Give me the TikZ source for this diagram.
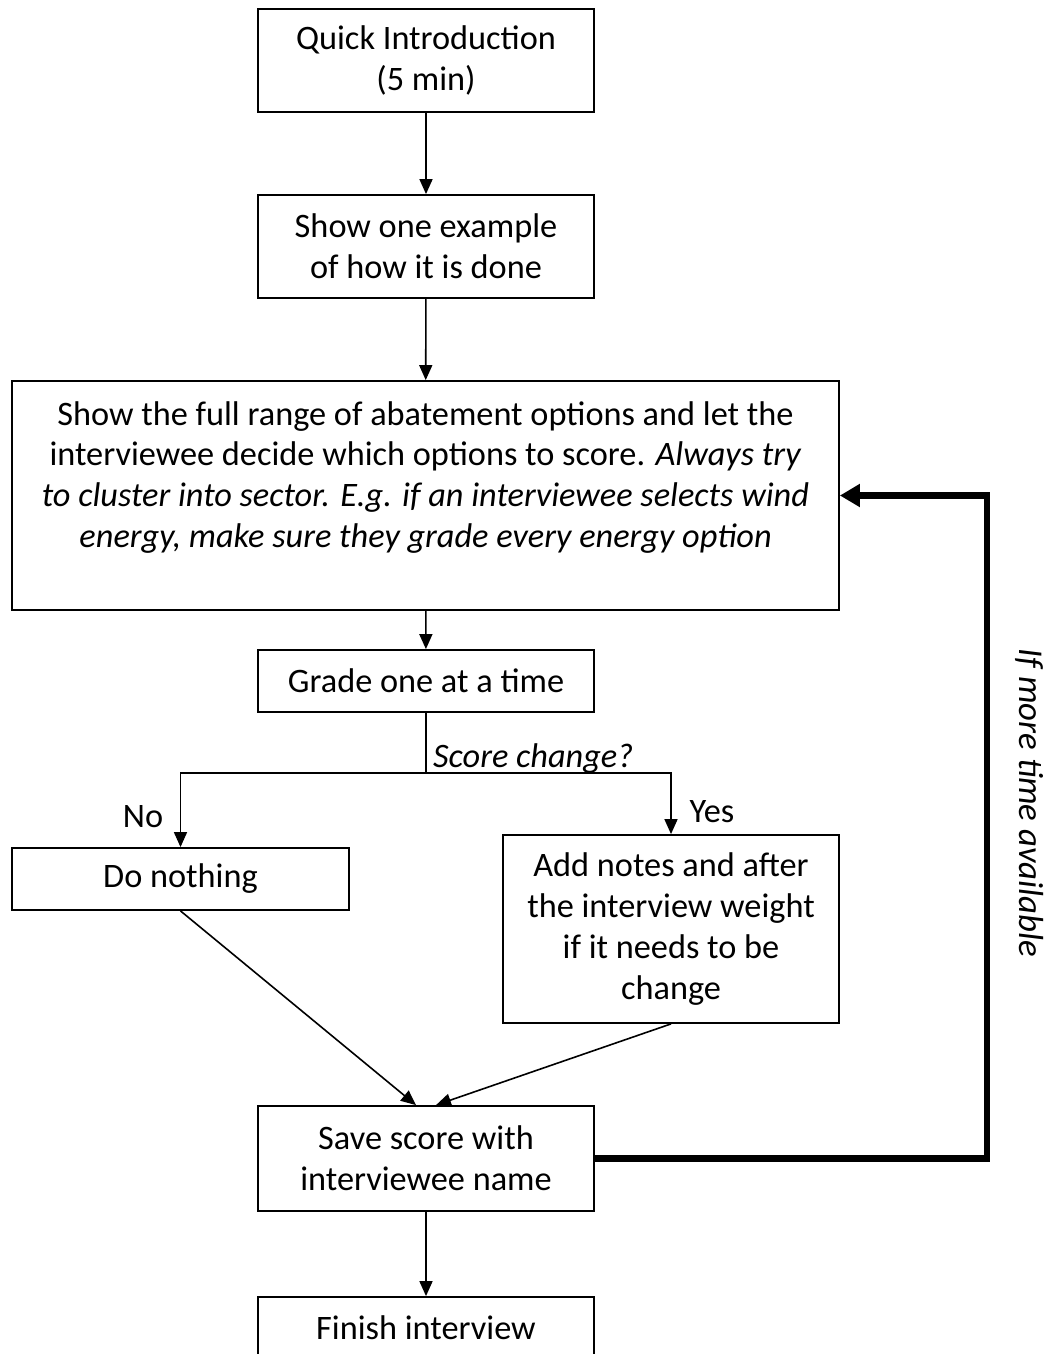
\documentclass[tikz,border=0pt]{standalone}
\usepackage{fontspec}
\setmainfont{Carlito}
\usetikzlibrary{arrows.meta}
\begin{document}
\begin{tikzpicture}[x=1pt,y=-1pt,
  every node/.style={font=\fontsize{34.3}{40.8}\selectfont},
  box/.style={draw, line width=1.8pt, align=center, inner sep=0pt},
  arr/.style={line width=1.6pt, -{Triangle[length=15pt,width=13pt]}},
  fb/.style={line width=6.5pt, -{Triangle[length=20pt,width=22pt]}}]
\useasboundingbox (0,0) rectangle (1058,1354);
\node[box, minimum width=336, minimum height=103] (intro) at (426,60.5) {Quick Introduction\\(5 min)};
\node[box, minimum width=336, minimum height=103] (example) at (426,246.5) {Show one example\\of how it is done};
\node[box, minimum width=827, minimum height=229] (opts) at (425.5,495.5) {};
\node[align=center, anchor=north, inner sep=0pt] (optstext) at (425.5,401)
 {Show the full range of abatement options and let the\\
  interviewee decide which options to score. \textit{Always try}\\
  \textit{to cluster into sector. E.g. if an interviewee selects wind}\\
  \textit{energy, make sure they grade every energy option}};
\node[box, minimum width=336, minimum height=62] (grade) at (426,681) {Grade one at a time};
\node[box, minimum width=337, minimum height=62] (nothing) at (180.5,879) {Do nothing};
\node[box, minimum width=336, minimum height=188] (notes) at (671,929) {Add notes and after\\the interview weight\\if it needs to be\\change};
\node[box, minimum width=336, minimum height=105] (save) at (426,1158.5) {Save score with\\interviewee name};
\node[box, minimum width=336, minimum height=62] (finish) at (426,1328) {Finish interview};
\coordinate (split) at (426,773);
\draw[arr] (intro) -- (example);
\draw[arr] (example) -- (opts);
\draw[arr] (opts) -- (grade);
\draw[line width=1.6pt] (grade.south) -- (split);
\draw[arr] (split) -| (nothing.north);
\draw[arr] (split) -| (notes.north);
\node[anchor=base west, inner sep=0pt, font=\fontsize{34.3}{40.8}\selectfont\itshape] (q) at (433,767) {Score change?};
\node (no) at (143,817) {No};
\node (yes) at (712,812) {Yes};
\draw[arr] (nothing.south) -- ([xshift=-10]save.north);
\draw[arr] (notes.south) -- ([xshift=10]save.north);
\draw[arr] (save) -- (finish);
\coordinate (corner) at (987,1158.5);
\draw[fb] (save.east) -- (corner) |- (opts.east);
\node[rotate=-90, font=\fontsize{34.8}{40.8}\selectfont\itshape] (more) at (1030,803) {If more time available};
\end{tikzpicture}
\end{document}
